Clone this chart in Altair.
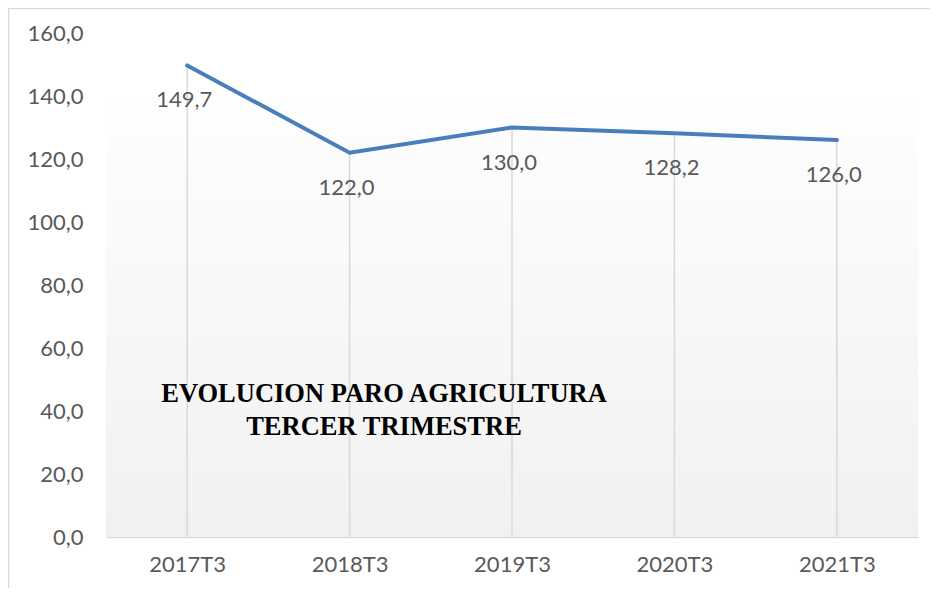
import altair as alt
import pandas as pd

periods = ["2017T3", "2018T3", "2019T3", "2020T3", "2021T3"]
paro = [149.7, 122.0, 130.0, 128.2, 126.0]
y_ticks = [0, 20, 40, 60, 80, 100, 120, 140, 160]
title_lines = ["EVOLUCION PARO AGRICULTURA", "TERCER TRIMESTRE"]

df = pd.DataFrame({"periodo": periods, "paro": paro})
df["etiqueta"] = [f"{v:.1f}".replace(".", ",") for v in paro]
one = pd.DataFrame({"k": [0]})

W, H = 812, 504
FONT = "Lato"
GRAY = "#595959"
FS = 22

x = alt.X(
    "periodo:N", sort=periods,
    scale=alt.Scale(type="point", padding=0.5),
    axis=alt.Axis(title=None, labelAngle=0, ticks=False, grid=False,
                  domainColor="#d9d9d9", domainWidth=1.5,
                  labelFont=FONT, labelFontSize=FS, labelColor=GRAY,
                  labelPadding=17),
)
y = alt.Y(
    "paro:Q",
    scale=alt.Scale(domain=[0, 160], nice=False),
    axis=alt.Axis(title=None, values=y_ticks,
                  labelExpr="replace(format(datum.value, '.1f'), '.', ',')",
                  domain=False, ticks=False, grid=False,
                  labelFont=FONT, labelFontSize=FS, labelColor=GRAY,
                  labelPadding=23),
)

bg = alt.Chart(one).mark_rect(
    fill=alt.LinearGradient(
        gradient="linear", x1=0, x2=0, y1=0, y2=1,
        stops=[alt.GradientStop(color="#fefefe", offset=0),
               alt.GradientStop(color="#f1f1f1", offset=1)],
    )
).encode(x=alt.value(0), x2=alt.value(W), y=alt.value(65), y2=alt.value(H))

drops = alt.Chart(df).mark_rule(color="#d9d9d9", strokeWidth=1.5).encode(
    x=x, y=y, y2=alt.datum(0)
)

line = alt.Chart(df).mark_line(color="#4a7ebb", strokeWidth=4, strokeCap="round").encode(
    x=x, y=y
)

labels = alt.Chart(df).mark_text(
    dy=35, dx=-3, font=FONT, fontSize=FS, color=GRAY, baseline="middle"
).encode(x=x, y=y, text="etiqueta:N")

title = alt.Chart(one).mark_text(
    text=title_lines, font="Liberation Serif", fontWeight="bold", fontSize=26.5,
    color="#000000", align="center", baseline="alphabetic", lineHeight=33
).encode(x=alt.value(278), y=alt.value(369))

border_left = alt.Chart(one).mark_rule(color="#d9d9d9", strokeWidth=1.5).encode(
    x=alt.value(-97.5), y=alt.value(-24.5), y2=alt.value(H + 60)
)
border_top = alt.Chart(one).mark_rule(color="#d9d9d9", strokeWidth=1.5).encode(
    x=alt.value(-98), x2=alt.value(W + 12), y=alt.value(-24.5)
)

chart = alt.layer(bg, drops, line, labels, title, border_left, border_top).properties(
    width=W, height=H,
    padding={"left": 98, "top": 25, "right": 12, "bottom": 51},
    autosize="none",
    background="white",
).configure_view(stroke=None)

chart.save("out.html", embed_options={"renderer": "svg", "actions": False})
